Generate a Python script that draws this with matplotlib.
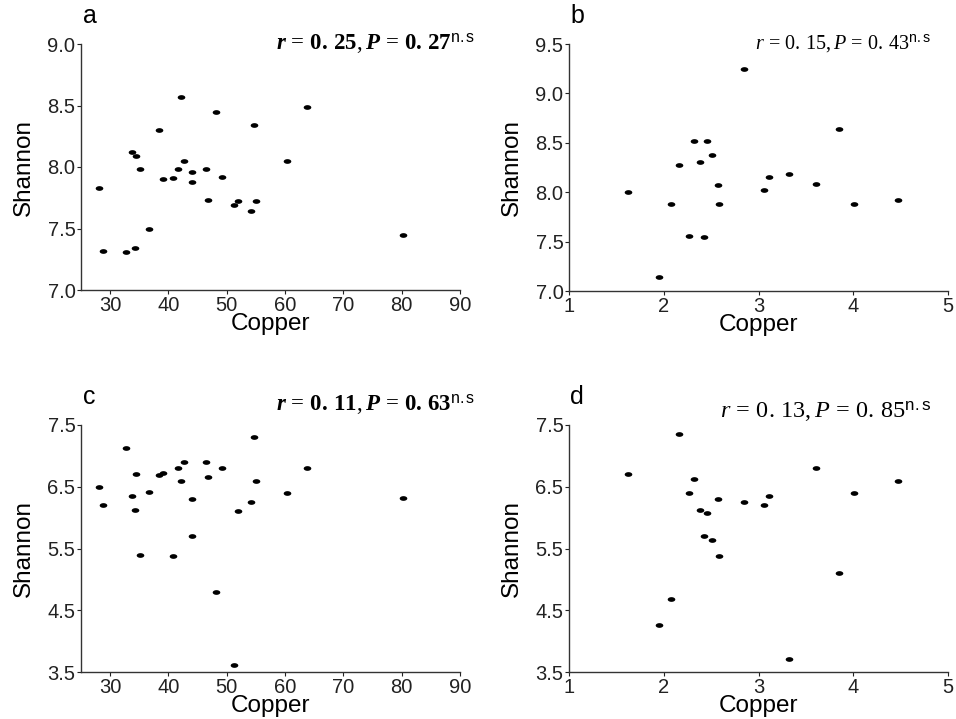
import numpy as np
import matplotlib
matplotlib.use("Agg")
import matplotlib.pyplot as plt

plt.rcParams['font.family'] = ['Liberation Sans', 'DejaVu Sans']
plt.rcParams['mathtext.fontset'] = 'custom'
plt.rcParams['mathtext.rm'] = 'Liberation Serif'
plt.rcParams['mathtext.it'] = 'Liberation Serif:italic'
plt.rcParams['mathtext.bf'] = 'Liberation Serif:bold'
plt.rcParams['mathtext.bfit'] = 'Liberation Serif:italic:bold'
plt.rcParams['mathtext.sf'] = 'Liberation Sans'

# copper values (two data sets), shared by the top and bottom rows
copper_ac = [28.1, 28.8, 32.7, 33.7, 34.3, 34.4, 35.2, 36.7, 38.3, 39.0,
             40.7, 41.6, 42.1, 42.7, 44.0, 44.1, 46.4, 46.7, 48.1, 49.2,
             51.2, 51.9, 54.2, 54.7, 55.0, 60.3, 63.8, 80.3]
shannon_a = [7.83, 7.32, 7.31, 8.12, 7.34, 8.09, 7.98, 7.50, 8.30, 7.90,
             7.91, 7.98, 8.57, 8.05, 7.96, 7.88, 7.98, 7.73, 8.45, 7.92,
             7.69, 7.72, 7.64, 8.34, 7.72, 8.05, 8.49, 7.45]
shannon_c = [6.50, 6.20, 7.12, 6.35, 6.12, 6.70, 5.40, 6.42, 6.69, 6.72,
             5.38, 6.80, 6.60, 6.90, 6.30, 5.71, 6.90, 6.65, 4.79, 6.80,
             3.61, 6.10, 6.25, 7.30, 6.60, 6.40, 6.80, 6.32]

copper_bd = [1.62, 1.95, 2.08, 2.16, 2.27, 2.32, 2.38, 2.43, 2.46, 2.51,
             2.57, 2.58, 2.85, 3.06, 3.11, 3.32, 3.61, 3.85, 4.01, 4.47]
shannon_b = [8.00, 7.14, 7.88, 8.28, 7.56, 8.52, 8.31, 7.55, 8.52, 8.38,
             8.07, 7.88, 9.25, 8.02, 8.15, 8.18, 8.08, 8.64, 7.88, 7.92]
shannon_d = [6.70, 4.26, 4.69, 7.35, 6.40, 6.62, 6.12, 5.71, 6.08, 5.63,
             6.30, 5.38, 6.25, 6.20, 6.35, 3.71, 6.80, 5.11, 6.40, 6.60]

r_vals = {'a': '0.25', 'b': '0.15', 'c': '0.11', 'd': '0.13'}
p_vals = {'a': '0.27', 'b': '0.43', 'c': '0.63', 'd': '0.85'}


def stat_label(r, p, bold):
    r1, r2 = r.split('.')
    p1, p2 = p.split('.')
    if bold:
        return (r'$\mathbfit{r}\,=\,\mathbf{%s.\,%s},\mathbfit{P}\,=\,\mathbf{%s.\,%s}^{\mathsf{n.s}}$'
                % (r1, r2, p1, p2))
    return (r'$\mathit{r}\,=\,\mathrm{%s.\,%s},\mathit{P}\,=\,\mathrm{%s.\,%s}^{\mathsf{n.s}}$'
            % (r1, r2, p1, p2))


W, H = 956, 719
fig = plt.figure(figsize=(W / 100, H / 100), dpi=100)

t = np.linspace(0, 2 * np.pi, 40)
dot = np.column_stack([np.cos(t), 0.62 * np.sin(t)])


def px(x0, y0, x1, y1):
    return [x0 / W, 1 - y1 / H, (x1 - x0) / W, (y1 - y0) / H]


panels = [
    ('a', px(81, 44, 460, 290), copper_ac, shannon_a, (25, 90), range(30, 91, 10), (7.0, 9.0), np.arange(7.0, 9.01, 0.5)),
    ('b', px(569, 44, 948, 291), copper_bd, shannon_b, (1, 5), range(1, 6), (7.0, 9.5), np.arange(7.0, 9.51, 0.5)),
    ('c', px(81, 425, 460, 672), copper_ac, shannon_c, (25, 90), range(30, 91, 10), (3.5, 7.5), np.arange(3.5, 7.51, 1.0)),
    ('d', px(569, 425, 948, 672), copper_bd, shannon_d, (1, 5), range(1, 6), (3.5, 7.5), np.arange(3.5, 7.51, 1.0)),
]

for name, pos, xs, ys, xl, xt, yl, yt in panels:
    ax = fig.add_axes(pos)
    ax.scatter(xs, ys, s=30, marker=dot, color='black', linewidths=0, clip_on=False)
    ax.set_xlim(xl)
    ax.set_ylim(yl)
    ax.set_xticks(list(xt))
    ax.set_yticks(yt)
    ax.set_yticklabels(['%.1f' % v for v in yt])
    for s in ['top', 'right']:
        ax.spines[s].set_visible(False)
    for s in ['left', 'bottom']:
        ax.spines[s].set_linewidth(1.0)
        ax.spines[s].set_color('#333333')
    ax.tick_params(direction='out', length=3, width=0.8, labelsize=14.5,
                   colors='#222222', pad=1)
    ax.set_xlabel('Copper', fontsize=17.5)
    ax.set_ylabel('Shannon', fontsize=17.5)
    hgt = pos[3] * H
    ax.xaxis.set_label_coords(0.5, -23 / hgt)
    ax.xaxis.label.set_va('top')
    ax.yaxis.set_label_coords(-46 / 379, 0.5)

# panel letters
fig.text(83 / W, 1 - 23 / H, 'a', fontsize=18, va='baseline')
fig.text(570 / W, 1 - 23 / H, 'b', fontsize=18, va='baseline')
fig.text(83 / W, 1 - 404 / H, 'c', fontsize=18, va='baseline')
fig.text(570 / W, 1 - 404 / H, 'd', fontsize=18, va='baseline')

# correlation statistics
fig.text(475 / W, 1 - 44 / H, stat_label(r_vals['a'], p_vals['a'], True),
         fontsize=16.5, ha='right', va='center')
fig.text(475 / W, 1 - 405 / H, stat_label(r_vals['c'], p_vals['c'], True),
         fontsize=16.5, ha='right', va='center')
fig.text(931 / W, 1 - 44 / H, stat_label(r_vals['b'], p_vals['b'], False),
         fontsize=14.5, ha='right', va='center')
fig.text(931 / W, 1 - 412 / H, stat_label(r_vals['d'], p_vals['d'], False),
         fontsize=17.5, ha='right', va='center')

fig.savefig('out.png', dpi=100)
